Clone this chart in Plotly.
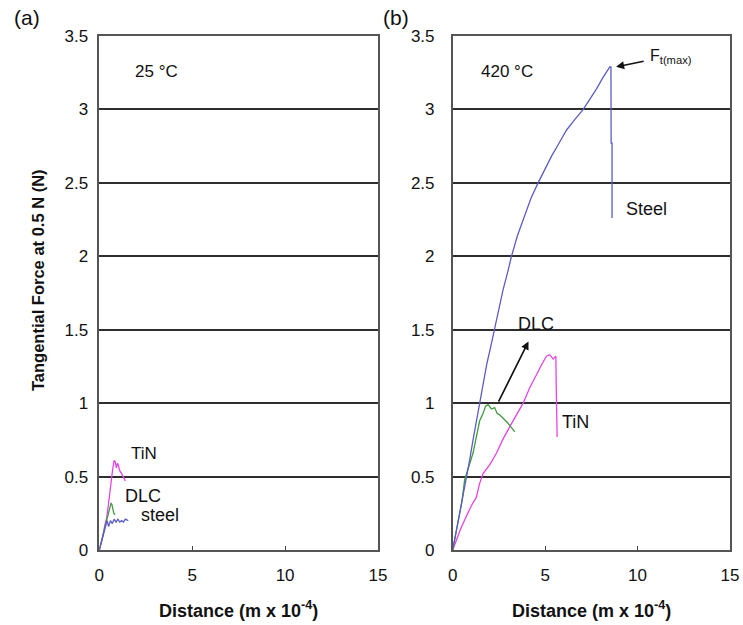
import plotly.graph_objects as go

# ---------------- Data ----------------
# Panel (a) 25 °C
a_tin_x = [0, 0.15, 0.3, 0.4, 0.5, 0.57, 0.65, 0.72, 0.8, 0.86, 0.92, 0.98, 1.02, 1.1, 1.2, 1.3, 1.4]
a_tin_y = [0, 0.07, 0.17, 0.22, 0.32, 0.40, 0.48, 0.55, 0.61, 0.60, 0.56, 0.59, 0.58, 0.54, 0.52, 0.49, 0.47]
a_dlc_x = [0, 0.15, 0.3, 0.45, 0.55, 0.63, 0.68, 0.72, 0.78, 0.85]
a_dlc_y = [0, 0.08, 0.16, 0.23, 0.29, 0.32, 0.31, 0.27, 0.25, 0.24]
a_steel_x = [0, 0.15, 0.3, 0.42, 0.5, 0.6, 0.7, 0.8, 0.9, 1.0, 1.1, 1.2, 1.3, 1.4, 1.56]
a_steel_y = [0, 0.07, 0.15, 0.20, 0.16, 0.20, 0.18, 0.21, 0.19, 0.21, 0.19, 0.20, 0.19, 0.21, 0.20]

# Panel (b) 420 °C
b_steel_x = [0, 0.2, 0.38, 0.55, 0.74, 0.9, 1.1, 1.28, 1.46, 1.65, 1.85, 2.05, 2.25, 2.5, 2.72, 2.95, 3.18,
             3.5, 3.9, 4.25, 4.62, 5.0, 5.34, 5.75, 6.16, 6.6, 7.06, 7.42, 7.78, 8.14, 8.35, 8.5,
             8.56, 8.57, 8.62, 8.62]
b_steel_y = [0, 0.13, 0.25, 0.37, 0.5, 0.6, 0.75, 0.87, 1.0, 1.14, 1.27, 1.38, 1.5, 1.64, 1.77, 1.88, 2.0,
             2.14, 2.28, 2.4, 2.5, 2.6, 2.68, 2.77, 2.86, 2.93, 3.0, 3.07, 3.14, 3.22, 3.26, 3.29,
             3.29, 2.77, 2.77, 2.26]
b_dlc_x = [0, 0.2, 0.38, 0.5, 0.65, 0.83, 1.0, 1.1, 1.28, 1.46, 1.64, 1.78, 1.91, 2.1, 2.27, 2.4, 2.54,
           2.68, 2.82, 2.95, 3.09, 3.22, 3.36]
b_dlc_y = [0, 0.13, 0.25, 0.33, 0.48, 0.55, 0.62, 0.66, 0.77, 0.88, 0.93, 0.98, 0.99, 0.96, 0.97, 0.93, 0.92,
           0.90, 0.885, 0.87, 0.85, 0.83, 0.805]
b_tin_x = [0, 0.2, 0.45, 0.74, 1.0, 1.28, 1.45, 1.64, 2.0, 2.37, 2.7, 3.09, 3.45, 3.81, 4.15, 4.53, 4.8,
           5.07, 5.25, 5.43, 5.58, 5.6, 5.62, 5.65]
b_tin_y = [0, 0.07, 0.15, 0.23, 0.3, 0.36, 0.45, 0.52, 0.58, 0.66, 0.75, 0.84, 0.92, 1.0, 1.1, 1.2, 1.26,
           1.32, 1.33, 1.30, 1.32, 1.11, 0.9, 0.77]

x_ticks = [0, 5, 10, 15]
y_ticks = [0, 0.5, 1, 1.5, 2, 2.5, 3, 3.5]
y_tick_text = ["0", "0.5", "1", "1.5", "2", "2.5", "3", "3.5"]

BLUE = "#5c5cc4"
GREEN = "#3f9a3f"
MAGENTA = "#e444e4"
FONT = "Liberation Sans, Arial, sans-serif"

fig = go.Figure()

def line(x, y, color, xa, ya):
    fig.add_trace(go.Scatter(x=x, y=y, mode="lines", line=dict(color=color, width=1.3),
                             xaxis=xa, yaxis=ya, showlegend=False, hoverinfo="skip"))

line(a_tin_x, a_tin_y, MAGENTA, "x", "y")
line(a_dlc_x, a_dlc_y, GREEN, "x", "y")
line(a_steel_x, a_steel_y, BLUE, "x", "y")
line(b_tin_x, b_tin_y, MAGENTA, "x2", "y2")
line(b_dlc_x, b_dlc_y, GREEN, "x2", "y2")
line(b_steel_x, b_steel_y, BLUE, "x2", "y2")

ydom = [1 - 550 / 625, 1 - 36 / 625]
xa_common = dict(range=[0, 15], tickvals=x_ticks, ticks="inside", ticklen=4, tickcolor="#444",
                 showgrid=False, zeroline=False, showline=True, linecolor="#555", linewidth=1.5,
                 mirror=True, tickfont=dict(family=FONT, size=17, color="#111"), automargin=False,
                 ticklabelstandoff=9)
ya_common = dict(range=[0, 3.5], tickvals=y_ticks, ticktext=y_tick_text, ticks="",
                 showgrid=True, gridcolor="#2e2e2e", gridwidth=1.6, zeroline=False,
                 showline=True, linecolor="#555", linewidth=1.5, mirror=True,
                 tickfont=dict(family=FONT, size=17, color="#111"), automargin=False, domain=ydom)

fig.update_layout(
    width=743, height=625, margin=dict(l=0, r=0, t=0, b=0),
    paper_bgcolor="white", plot_bgcolor="white", showlegend=False,
    xaxis=dict(domain=[99.3 / 743, 378 / 743], anchor="y", **xa_common),
    yaxis=dict(anchor="x", ticklabelstandoff=6, **ya_common),
    xaxis2=dict(domain=[452.7 / 743, 730 / 743], anchor="y2", **xa_common),
    yaxis2=dict(anchor="x2", ticklabelstandoff=13, **ya_common),
)

ann = []
def txt(x, y, s, xref="paper", yref="paper", size=17, bold=False, xanchor="left", **kw):
    ann.append(dict(x=x, y=y, xref=xref, yref=yref, text=("<b>%s</b>" % s) if bold else s,
                    showarrow=False, xanchor=xanchor, yanchor="middle",
                    font=dict(family=FONT, size=size, color="#111"), **kw))

# panel labels
txt(12 / 743, 1 - 17 / 625, "(a)", size=21)
txt(381 / 743, 1 - 17 / 625, "(b)", size=21)
# temperatures
txt(1.8, 3.26, "25 °C", "x", "y")
txt(1.42, 3.26, "420 °C", "x2", "y2")
# curve labels (a)
txt(1.62, 0.66, "TiN", "x", "y")
txt(1.28, 0.37, "DLC", "x", "y", size=18)
txt(2.15, 0.24, "steel", "x", "y", size=18)
# curve labels (b)
txt(9.25, 2.32, "Steel", "x2", "y2", size=18)
txt(5.8, 0.87, "TiN", "x2", "y2", size=18)
txt(3.4, 1.54, "DLC", "x2", "y2", size=18)
txt(10.55, 3.36, "F<sub>t(max)</sub>", "x2", "y2", size=16)
# axis titles
txt(238.6 / 743, 1 - 609 / 625, "Distance (m x 10<sup>-4</sup>)", size=18, bold=True, xanchor="center")
txt(591.3 / 743, 1 - 609 / 625, "Distance (m x 10<sup>-4</sup>)", size=18, bold=True, xanchor="center")
ann.append(dict(x=38 / 743, y=1 - 280 / 625, xref="paper", yref="paper",
                text="<b>Tangential Force at 0.5 N (N)</b>", textangle=-90, showarrow=False,
                xanchor="center", yanchor="middle", font=dict(family=FONT, size=16.5, color="#111")))

# arrows
ann.append(dict(x=4.1, y=1.42, ax=2.44, ay=1.0, xref="x2", yref="y2", axref="x2", ayref="y2",
                text="", showarrow=True, arrowhead=2, arrowsize=1, arrowwidth=1.6, arrowcolor="#111"))
ann.append(dict(x=8.84, y=3.29, ax=10.41, ay=3.33, xref="x2", yref="y2", axref="x2", ayref="y2",
                text="", showarrow=True, arrowhead=2, arrowsize=1, arrowwidth=1.6, arrowcolor="#111"))

fig.update_layout(annotations=ann)
fig.write_html("out.html")
